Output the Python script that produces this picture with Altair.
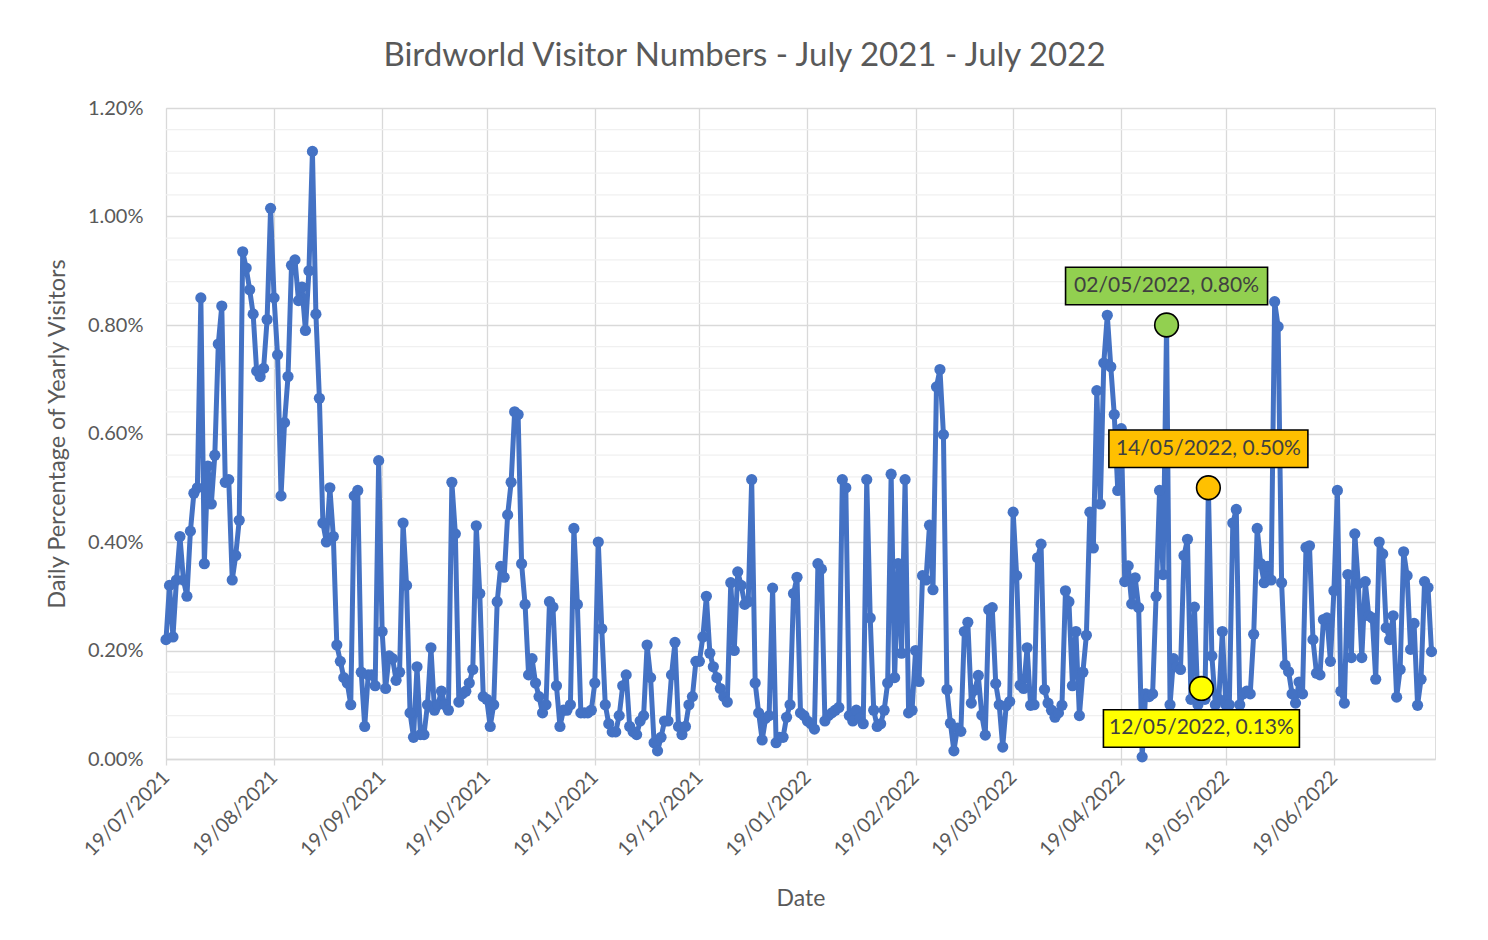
import altair as alt
import pandas as pd

# ---------------- data ----------------
START = "2021-07-19"
END = "2022-07-18"

# daily percentage of yearly visitors, one list per month interval (19th -> 18th)
m_2021_07 = [0.22, 0.32, 0.225, 0.33, 0.41, 0.33, 0.30, 0.42, 0.49, 0.50,
             0.85, 0.36, 0.54, 0.47, 0.56, 0.765, 0.835, 0.51, 0.515, 0.33,
             0.375, 0.44, 0.935, 0.905, 0.865, 0.82, 0.715, 0.705, 0.72, 0.81,
             1.015]
m_2021_08 = [0.85, 0.745, 0.485, 0.62, 0.705, 0.91, 0.92, 0.845, 0.87,
             0.79, 0.90, 1.12, 0.82, 0.665, 0.435, 0.40, 0.50, 0.41, 0.21,
             0.18, 0.15, 0.14, 0.10, 0.485, 0.495, 0.16, 0.06, 0.155, 0.155,
             0.135, 0.55]
m_2021_09 = [0.235, 0.13, 0.19, 0.185, 0.145, 0.16, 0.435, 0.32,
             0.085, 0.04, 0.17, 0.045, 0.045, 0.10, 0.205, 0.09, 0.10, 0.125,
             0.10, 0.09, 0.51, 0.415, 0.105, 0.12, 0.125, 0.14, 0.165, 0.43,
             0.305, 0.115]
m_2021_10 = [0.11, 0.06, 0.10, 0.29, 0.355, 0.335, 0.45, 0.51,
             0.64, 0.635, 0.36, 0.285, 0.155, 0.185, 0.14, 0.115, 0.085, 0.10,
             0.29, 0.28, 0.135, 0.06, 0.09, 0.09, 0.10, 0.425, 0.285, 0.085,
             0.085, 0.085, 0.09]
m_2021_11 = [0.14, 0.40, 0.24, 0.10, 0.065, 0.05, 0.05,
             0.08, 0.135, 0.155, 0.06, 0.05, 0.045, 0.07, 0.08, 0.21, 0.15,
             0.03, 0.015, 0.04, 0.07, 0.07, 0.155, 0.215, 0.06, 0.045, 0.06,
             0.10, 0.115, 0.18]
m_2021_12 = [0.18, 0.225, 0.30, 0.195, 0.17, 0.15, 0.13,
             0.115, 0.105, 0.325, 0.20, 0.345, 0.32, 0.285, 0.29, 0.515, 0.14,
             0.085, 0.035, 0.075, 0.08, 0.315, 0.03, 0.04, 0.04, 0.077, 0.10,
             0.305, 0.335, 0.085, 0.08]
m_2022_01 = [0.07, 0.065, 0.055, 0.36, 0.35, 0.07,
             0.08, 0.085, 0.09, 0.095, 0.515, 0.50, 0.08, 0.07, 0.09, 0.075,
             0.065, 0.515, 0.26, 0.09, 0.06, 0.065, 0.09, 0.14, 0.525, 0.15,
             0.36, 0.195, 0.515, 0.085, 0.09]
m_2022_02 = [0.20, 0.143, 0.338, 0.33, 0.431,
             0.312, 0.686, 0.718, 0.598, 0.128, 0.066, 0.015, 0.057, 0.051, 0.235,
             0.252, 0.103, 0.127, 0.154, 0.081, 0.044, 0.275, 0.279, 0.139, 0.10,
             0.022, 0.098, 0.106]
m_2022_03 = [0.455, 0.338, 0.136, 0.13, 0.205, 0.099, 0.10,
             0.371, 0.396, 0.128, 0.103, 0.09, 0.077, 0.085, 0.099, 0.31, 0.29,
             0.135, 0.235, 0.08, 0.16, 0.228, 0.455, 0.389, 0.679, 0.47, 0.73,
             0.818, 0.723, 0.635, 0.495]
m_2022_04 = [0.609, 0.327, 0.356, 0.286, 0.334, 0.279,
             0.004, 0.12, 0.115, 0.12, 0.30, 0.495, 0.34, 0.80, 0.10, 0.185,
             0.17, 0.165, 0.375, 0.405, 0.11, 0.28, 0.10, 0.13, 0.11, 0.50,
             0.19, 0.10, 0.11, 0.235]
m_2022_05 = [0.10, 0.10, 0.435, 0.46, 0.10, 0.12,
             0.125, 0.12, 0.23, 0.425, 0.36, 0.325, 0.355, 0.33, 0.843, 0.797,
             0.325, 0.173, 0.161, 0.12, 0.103, 0.142, 0.12, 0.39, 0.393, 0.22,
             0.158, 0.155, 0.257, 0.26, 0.18]
m_2022_06 = [0.31, 0.495, 0.125, 0.103, 0.34,
             0.187, 0.415, 0.323, 0.187, 0.327, 0.264, 0.26, 0.147, 0.40, 0.378,
             0.242, 0.22, 0.264, 0.114, 0.165, 0.382, 0.338, 0.202, 0.25, 0.099,
             0.147, 0.327, 0.316, 0.198]

series_parts = [m_2021_07, m_2021_08, m_2021_09, m_2021_10, m_2021_11, m_2021_12,
                m_2022_01, m_2022_02, m_2022_03, m_2022_04, m_2022_05, m_2022_06]

tick_dates = ["2021-07-19", "2021-08-19", "2021-09-19", "2021-10-19", "2021-11-19",
              "2021-12-19", "2022-01-19", "2022-02-19", "2022-03-19", "2022-04-19",
              "2022-05-19", "2022-06-19"]
y_ticks = [0.0, 0.2, 0.4, 0.6, 0.8, 1.0, 1.2]
y_minor = [0.04, 0.08, 0.12, 0.16, 0.24, 0.28, 0.32, 0.36, 0.44, 0.48, 0.52, 0.56,
           0.64, 0.68, 0.72, 0.76, 0.84, 0.88, 0.92, 0.96, 1.04, 1.08, 1.12, 1.16]

hl_dates = ["2022-05-02", "2022-05-14", "2022-05-12"]
hl_values = [0.80, 0.50, 0.13]
hl_labels = ["02/05/2022, 0.80%", "14/05/2022, 0.50%", "12/05/2022, 0.13%"]
hl_colors = ["#92D050", "#FFC000", "#FFFF00"]

# ---------------- build ----------------
values = [v for part in series_parts for v in part]
dates = pd.date_range(START, periods=len(values), freq="D").strftime("%Y-%m-%dT00:00:00")
df = pd.DataFrame({"date": list(dates), "pct": values})


def to_dt(s):
    y, m, d = (int(p) for p in s.split("-"))
    return alt.DateTime(year=y, month=m, date=d)


FONT = "Lato"
GREY = "#595959"
W, H = 1269, 651

x_scale = alt.Scale(domain=[to_dt(START), to_dt(END)], nice=False)
y_scale = alt.Scale(domain=[0, 1.2], nice=False, zero=True)

x_axis = alt.Axis(values=[to_dt(t) for t in tick_dates], format="%d/%m/%Y",
                  labelAngle=-45, labelAlign="right", labelBaseline="middle",
                  labelPadding=9, labelFontSize=20, labelFont=FONT, labelColor=GREY,
                  grid=True, gridColor="#D9D9D9", gridWidth=1.3,
                  domainColor="#D9D9D9", domainWidth=1.3,
                  ticks=True, tickColor="#D9D9D9", tickSize=6, tickWidth=1.3,
                  title="Date", titleFont=FONT, titleFontSize=23,
                  titleFontWeight="normal", titleColor=GREY,
                  titleX=W / 2, titleY=139, titleAlign="center", titleBaseline="middle")

y_axis = alt.Axis(values=y_ticks, labelExpr="format(datum.value, '.2f') + '%'",
                  labelFontSize=20, labelFont=FONT, labelColor=GREY, labelPadding=23,
                  grid=True, gridColor="#D9D9D9", gridWidth=1.3,
                  domain=False, ticks=False,
                  title="Daily Percentage of Yearly Visitors", titleFont=FONT,
                  titleFontSize=23.5, titleFontWeight="normal", titleColor=GREY,
                  titleAngle=-90, titleX=-109, titleY=H / 2,
                  titleAlign="center", titleBaseline="middle")

minor = alt.Chart(pd.DataFrame({"pct": y_minor})).mark_rule(
    color="#F0F0F0", strokeWidth=1.3
).encode(y=alt.Y("pct:Q", scale=y_scale))

base = alt.Chart(df).encode(
    x=alt.X("date:T", scale=x_scale, axis=x_axis),
    y=alt.Y("pct:Q", scale=y_scale, axis=y_axis),
)
line = base.mark_line(color="#4472C4", strokeWidth=5, strokeJoin="round")
pts = base.mark_circle(color="#4472C4", size=125, opacity=1)

layers = [minor, line, pts]

box_offsets = [-39, -39, 40]
box_widths = [202, 199, 196]
for d, v, lab, col, off, bw in zip(hl_dates, hl_values, hl_labels, hl_colors,
                                   box_offsets, box_widths):
    hdf = pd.DataFrame({"date": [d + "T00:00:00"], "pct": [v], "label": [lab]})
    henc = alt.Chart(hdf).encode(
        x=alt.X("date:T", scale=x_scale),
        y=alt.Y("pct:Q", scale=y_scale),
    )
    marker = henc.mark_point(shape="circle", filled=True, fill=col, stroke="black",
                             strokeWidth=1.6, size=560, opacity=1, fillOpacity=1)
    ratio = 37.5 / bw
    path = f"M-1,-{ratio:.4f} L1,-{ratio:.4f} L1,{ratio:.4f} L-1,{ratio:.4f} Z"
    box = henc.mark_point(shape=path, filled=True, fill=col, stroke="black",
                          strokeWidth=1.6, size=bw * bw, opacity=1, fillOpacity=1,
                          yOffset=off)
    txt = henc.mark_text(font=FONT, fontSize=21, color="#404040", yOffset=off,
                         baseline="middle", align="center").encode(text="label:N")
    layers += [marker, box, txt]

chart = alt.layer(*layers).properties(
    width=W, height=H,
    padding={"left": 158, "top": 100, "right": 45, "bottom": 170},
    autosize=alt.AutoSizeParams(type="none"),
    title=alt.TitleParams("Birdworld Visitor Numbers - July 2021 - July 2022",
                          font=FONT, fontSize=33, fontWeight="normal", color=GREY,
                          anchor="middle", frame="group", dx=-56, dy=44, offset=43,
                          baseline="alphabetic"),
).configure_view(stroke=None).configure(background="white")

chart.save("out.html", embed_options={"renderer": "svg", "actions": False})
